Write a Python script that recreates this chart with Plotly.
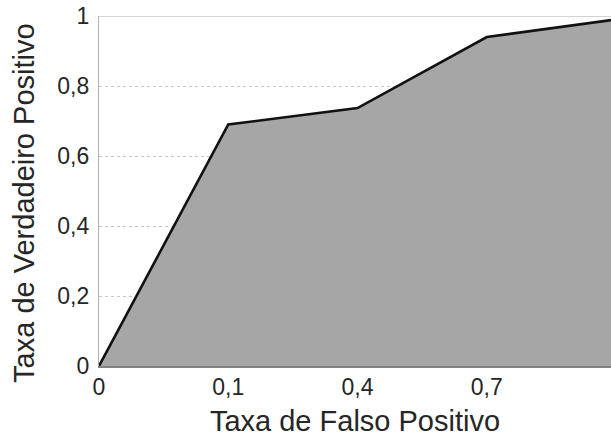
import plotly.graph_objects as go

# Data
x_labels = ["0", "0,1", "0,4", "0,7", "1"]
tpr = [0.0, 0.69, 0.737, 0.94, 0.99]
y_tickvals = [0, 0.2, 0.4, 0.6, 0.8, 1]
y_ticktext = ["0", "0,2", "0,4", "0,6", "0,8", "1"]
x_title = "Taxa de Falso Positivo"
y_title = "Taxa de Verdadeiro Positivo"

x_idx = list(range(len(x_labels)))

FONT = "Liberation Sans, Arial, sans-serif"
TXT = "#262626"

fig = go.Figure()
fig.add_trace(go.Scatter(
    x=x_idx, y=tpr, mode="lines",
    line=dict(color="#111111", width=2.6),
    fill="tozeroy", fillcolor="#a6a6a6",
    hoverinfo="skip", showlegend=False,
))

# top border line at y=1
fig.add_shape(type="line", xref="paper", yref="y", x0=0, x1=1, y0=1, y1=1,
              line=dict(color="#c4c4c4", width=1.5), layer="above")

# last category label (falls past the visible edge)
fig.add_annotation(x=1, y=0, xref="paper", yref="paper", text=x_labels[-1],
                   showarrow=False, xanchor="center", yanchor="top", xshift=5, yshift=-5,
                   font=dict(family=FONT, size=23, color=TXT))

# y-axis title
fig.add_annotation(x=0, y=0.466, xref="paper", yref="paper", text=y_title,
                   showarrow=False, textangle=-90, xanchor="center", yanchor="middle",
                   xshift=-75, font=dict(family=FONT, size=29, color=TXT))

fig.update_layout(
    width=611, height=438,
    margin=dict(l=99, r=0, t=16, b=72),
    paper_bgcolor="white", plot_bgcolor="white",
    font=dict(family=FONT, color=TXT),
    xaxis=dict(
        range=[0, 3.961], tickmode="array", tickvals=x_idx[:-1], ticktext=x_labels[:-1],
        showgrid=False, zeroline=False, showline=True, linecolor="#808080", linewidth=1.5,
        ticks="", tickfont=dict(size=23, color=TXT),
        title=dict(text=x_title, font=dict(size=29, color=TXT), standoff=11),
        fixedrange=True,
    ),
    yaxis=dict(
        range=[0, 1], tickmode="array", tickvals=y_tickvals, ticktext=y_ticktext,
        showgrid=True, gridcolor="#c8c8c8", griddash="dot", gridwidth=1,
        zeroline=False, showline=True, linecolor="#b0b0b0", linewidth=1.2,
        ticks="", tickfont=dict(size=23, color=TXT), ticklabelstandoff=4,
        fixedrange=True,
    ),
)

fig.write_html("out.html", config={"displayModeBar": False, "staticPlot": True},
               post_script="document.body.style.margin='0';document.body.style.overflow='hidden';")
